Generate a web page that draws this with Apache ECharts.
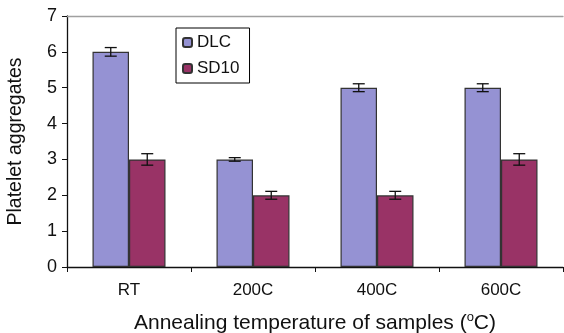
<!DOCTYPE html>
<html>
<head>
<meta charset="utf-8">
<script src="https://cdn.jsdelivr.net/npm/echarts@6/dist/echarts.min.js"></script>
<style>
  html, body { margin: 0; padding: 0; background: #fff; }
  #chart { width: 564px; height: 333px; }
</style>
</head>
<body>
<div id="chart"></div>
<script>
const categories = ["RT", "200C", "400C", "600C"];
const dlc = [6, 3, 5, 5];
const dlcErr = [0.12, 0.05, 0.11, 0.11];
const sd10 = [3, 2, 2, 3];
const sd10Err = [0.16, 0.11, 0.11, 0.16];

const BAR_W = 36.5;
const font = "Liberation Sans";

const errData = (vals, errs) => vals.map((v, i) => [i, v - errs[i], v + errs[i]]);

// error bar drawn through the axis scales, shifted by half a bar width
const errRender = (offset) => (params, api) => {
  const x = api.coord([api.value(0), 0])[0] + offset;
  const lo = api.coord([api.value(0), api.value(1)])[1];
  const hi = api.coord([api.value(0), api.value(2)])[1];
  const cap = 6;
  const style = { stroke: "#111", lineWidth: 1.3 };
  return {
    type: "group",
    children: [
      { type: "line", shape: { x1: x, y1: hi, x2: x, y2: lo }, style },
      { type: "line", shape: { x1: x - cap, y1: hi, x2: x + cap, y2: hi }, style },
      { type: "line", shape: { x1: x - cap, y1: lo, x2: x + cap, y2: lo }, style },
    ],
  };
};

const myChart = echarts.init(document.getElementById("chart"));
myChart.setOption({
  animation: false,
  grid: { left: 67, top: 16, right: 1, bottom: 66, outerBoundsMode: "none", containLabel: false },
  legend: {
    data: ["DLC", "SD10"],
    orient: "vertical",
    left: 176,
    top: 28,
    itemWidth: 9,
    itemHeight: 9,
    itemGap: 9,
    padding: [6, 10, 6, 6],
    borderColor: "#000",
    borderWidth: 1,
    textStyle: { fontFamily: font, fontSize: 17, color: "#111" },
  },
  xAxis: [
    {
      type: "category",
      data: categories,
      axisLine: { lineStyle: { color: "#111", width: 1.3 } },
      axisTick: { show: true, length: 5, lineStyle: { color: "#111" } },
      axisLabel: { fontFamily: font, fontSize: 17, color: "#111", margin: 15 },
      name: "Annealing temperature of samples ({sup|o}C)",
      nameLocation: "middle",
      nameGap: 44,
      nameTextStyle: {
        fontFamily: font, fontSize: 21, color: "#111", lineHeight: 24,
        rich: { sup: { fontFamily: font, fontSize: 13, color: "#111", verticalAlign: "top", lineHeight: 13 } },
      },
    },
    {
      type: "category",
      data: categories,
      position: "top",
      axisLine: { lineStyle: { color: "#a0a0a0", width: 1.3 } },
      axisTick: { show: false },
      axisLabel: { show: false },
    },
  ],
  yAxis: {
    type: "value",
    min: 0,
    max: 7,
    interval: 1,
    axisLine: { show: true, lineStyle: { color: "#111", width: 1.3 } },
    axisTick: { show: true, length: 5, lineStyle: { color: "#111" } },
    axisLabel: { fontFamily: font, fontSize: 18, color: "#111", margin: 10 },
    splitLine: { show: false },
    name: "Platelet aggregates",
    nameLocation: "middle",
    nameGap: 41,
    nameTextStyle: { fontFamily: font, fontSize: 19.5, color: "#111" },
  },
  series: [
    {
      name: "DLC",
      type: "bar",
      data: dlc,
      barWidth: BAR_W,
      barGap: "0%",
      itemStyle: { color: "#9592d3", borderColor: "#333", borderWidth: 1.2 },
    },
    {
      name: "SD10",
      type: "bar",
      data: sd10,
      barWidth: BAR_W,
      barGap: "0%",
      itemStyle: { color: "#993366", borderColor: "#333", borderWidth: 1.2 },
    },
    {
      type: "custom",
      renderItem: errRender(-BAR_W / 2),
      data: errData(dlc, dlcErr),
      encode: { x: 0, y: [1, 2] },
      z: 10,
    },
    {
      type: "custom",
      renderItem: errRender(BAR_W / 2),
      data: errData(sd10, sd10Err),
      encode: { x: 0, y: [1, 2] },
      z: 10,
    },
  ],
});
</script>
</body>
</html>
